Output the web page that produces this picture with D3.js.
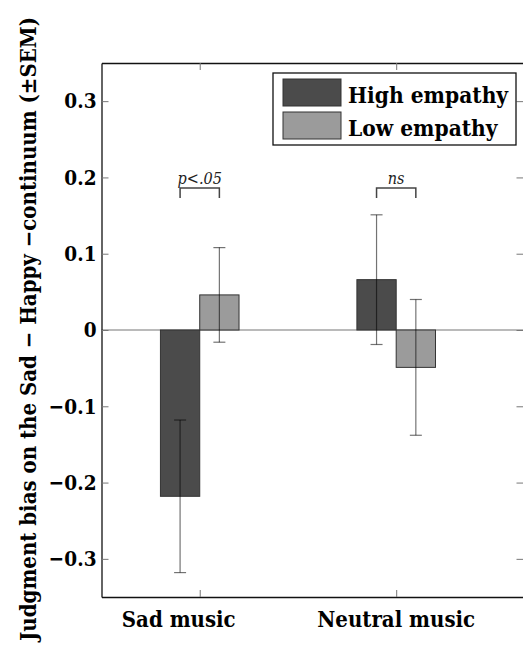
<!DOCTYPE html>
<html lang="en">
<head>
    <meta charset="UTF-8">
    <title>Judgment bias</title>
    <script src="https://d3js.org/d3.v7.min.js"></script>
    <style>
        html, body {
            margin: 0;
            background: white;
        }
        svg text {
            font-family: "DejaVu Serif", serif !important;
        }
    </style>
</head>
<body>
    <div id="vis"></div>
    <script>

        // data
        var categories = ["Sad music", "Neutral music"];
        var groups = ["High empathy", "Low empathy"];
        var highMean = [-0.218, 0.066];
        var highSem = [0.100, 0.085];
        var lowMean = [0.046, -0.049];
        var lowSem = [0.062, 0.089];
        var sigLabels = ["p<.05", "ns"];
        var yTicks = [-0.3, -0.2, -0.1, 0, 0.1, 0.2, 0.3];

        var width = 523,
            height = 648;

        var colours = ["#4b4b4b", "#9b9b9b"];

        // squeeze the wide serif so text widths match the original Times look
        function squeeze(sel, k){
            sel.each(function(){
                var w = this.getComputedTextLength();
                d3.select(this)
                    .attr('textLength', w * k)
                    .attr('lengthAdjust', 'spacingAndGlyphs');
            });
        }

        var svg = d3.select('#vis')
                    .append('svg')
                        .attr('width', width)
                        .attr('height', height);

        var x = d3.scaleLinear()
                    .domain([0.5, 2.648])
                    .range([101.5, 523.5]);

        var y = d3.scaleLinear()
                    .domain([-0.35, 0.35])
                    .range([597, 63]);

        var barW = 0.2;

        var bars = [];
        categories.forEach(function(c, i){
            bars.push({cat: i + 1, off: -0.1, mean: highMean[i], sem: highSem[i], g: 0});
            bars.push({cat: i + 1, off: 0.1, mean: lowMean[i], sem: lowSem[i], g: 1});
        });

        // zero line
        svg.append('line')
            .attr('x1', x(0.5)).attr('x2', x(2.648))
            .attr('y1', y(0)).attr('y2', y(0))
            .attr('stroke', '#777')
            .attr('stroke-width', 1.2);

        // bars
        svg.selectAll('.bar')
            .data(bars)
            .enter()
            .append('rect')
            .attr('class', 'bar')
            .attr('x', function(d){ return x(d.cat + d.off - barW / 2); })
            .attr('width', function(d){ return x(d.cat + d.off + barW / 2) - x(d.cat + d.off - barW / 2); })
            .attr('y', function(d){ return y(Math.max(0, d.mean)); })
            .attr('height', function(d){ return Math.abs(y(d.mean) - y(0)); })
            .attr('fill', function(d){ return colours[d.g]; })
            .attr('stroke', '#333')
            .attr('stroke-width', 1);

        // error bars
        var err = svg.selectAll('.err')
            .data(bars)
            .enter()
            .append('g')
            .attr('class', 'err')
            .attr('stroke', 'rgba(0,0,0,0.55)')
            .attr('stroke-width', 1.2);

        err.append('line')
            .attr('x1', function(d){ return x(d.cat + d.off); })
            .attr('x2', function(d){ return x(d.cat + d.off); })
            .attr('y1', function(d){ return y(d.mean + d.sem); })
            .attr('y2', function(d){ return y(d.mean - d.sem); });

        err.selectAll('.cap')
            .data(function(d){ return [d.mean + d.sem, d.mean - d.sem].map(function(v){ return {v: v, xc: d.cat + d.off}; }); })
            .enter()
            .append('line')
            .attr('x1', function(d){ return x(d.xc) - 6; })
            .attr('x2', function(d){ return x(d.xc) + 6; })
            .attr('y1', function(d){ return y(d.v); })
            .attr('y2', function(d){ return y(d.v); });

        // significance brackets
        var sig = svg.selectAll('.sig')
            .data(sigLabels)
            .enter()
            .append('g')
            .attr('class', 'sig');

        sig.append('path')
            .attr('d', function(d, i){
                var a = x(i + 1 - 0.1), b = x(i + 1 + 0.1);
                return 'M' + a + ',' + y(0.173) + 'V' + y(0.186) + 'H' + b + 'V' + y(0.173);
            })
            .attr('fill', 'none')
            .attr('stroke', '#444')
            .attr('stroke-width', 1.5);

        var sigText = sig.append('text')
            .attr('x', function(d, i){ return x(i + 1); })
            .attr('y', y(0.192))
            .attr('text-anchor', 'middle')
            .attr('font-style', 'italic')
            .attr('font-size', '17px')
            .attr('fill', '#222')
            .text(function(d){ return d; });
        squeeze(sigText, 0.85);

        // axes
        var fmt = function(d){ return d === 0 ? "0" : d3.format(".1f")(d); };

        var yAxis = svg.append('g')
            .attr('transform', 'translate(' + x(0.5) + ',0)')
            .call(d3.axisLeft(y).tickValues(yTicks).tickFormat(fmt).tickSize(-7).tickPadding(5).tickSizeOuter(0));

        svg.append('g')
            .attr('transform', 'translate(' + x(2.648) + ',0)')
            .call(d3.axisRight(y).tickValues(yTicks).tickFormat('').tickSize(-7).tickSizeOuter(0));

        svg.append('g')
            .attr('transform', 'translate(0,' + y(-0.35) + ')')
            .call(d3.axisBottom(x).tickValues([1, 2]).tickFormat('').tickSize(-7).tickSizeOuter(0));

        svg.append('g')
            .attr('transform', 'translate(0,' + y(0.35) + ')')
            .call(d3.axisTop(x).tickValues([1, 2]).tickFormat('').tickSize(-7).tickSizeOuter(0));

        svg.selectAll('.domain')
            .attr('stroke', '#111')
            .attr('stroke-width', 1.3);
        svg.selectAll('.tick line')
            .attr('stroke', '#777');

        var tickText = yAxis.selectAll('text')
            .attr('font-weight', 'bold')
            .attr('font-size', '21px')
            .attr('fill', '#000');
        squeeze(tickText, 0.88);

        // category labels
        var labelShift = [-21, 0];
        var catText = svg.selectAll('.cat')
            .data(categories)
            .enter()
            .append('text')
            .attr('class', 'cat')
            .attr('x', function(d, i){ return x(i + 1) + labelShift[i]; })
            .attr('y', 627)
            .attr('text-anchor', 'middle')
            .attr('font-weight', 'bold')
            .attr('font-size', '23px')
            .text(function(d){ return d; });
        squeeze(catText, 0.86);

        // y title
        svg.append('text')
            .attr('transform', 'translate(36,329)rotate(-90)')
            .attr('text-anchor', 'middle')
            .attr('font-weight', 'bold')
            .attr('font-size', '22px')
            .attr('textLength', 624)
            .attr('lengthAdjust', 'spacingAndGlyphs')
            .text('Judgment bias on the Sad \u2212 Happy \u2212continuum (\u00b1SEM)');

        // legend
        var legend = svg.append('g')
            .attr('transform', 'translate(273,73)');

        legend.append('rect')
            .attr('width', 243)
            .attr('height', 72)
            .attr('fill', 'white')
            .attr('stroke', '#111')
            .attr('stroke-width', 1.3);

        var items = legend.selectAll('.item')
            .data(groups)
            .enter()
            .append('g')
            .attr('class', 'item')
            .attr('transform', function(d, i){ return 'translate(10,' + (6 + i * 33) + ')'; });

        items.append('rect')
            .attr('width', 58)
            .attr('height', 27)
            .attr('fill', function(d, i){ return colours[i]; })
            .attr('stroke', '#333');

        var legText = items.append('text')
            .attr('x', 65)
            .attr('y', 24)
            .attr('font-weight', 'bold')
            .attr('font-size', '23px')
            .text(function(d){ return d; });
        squeeze(legText, 0.88);

    </script>
</body>
</html>
